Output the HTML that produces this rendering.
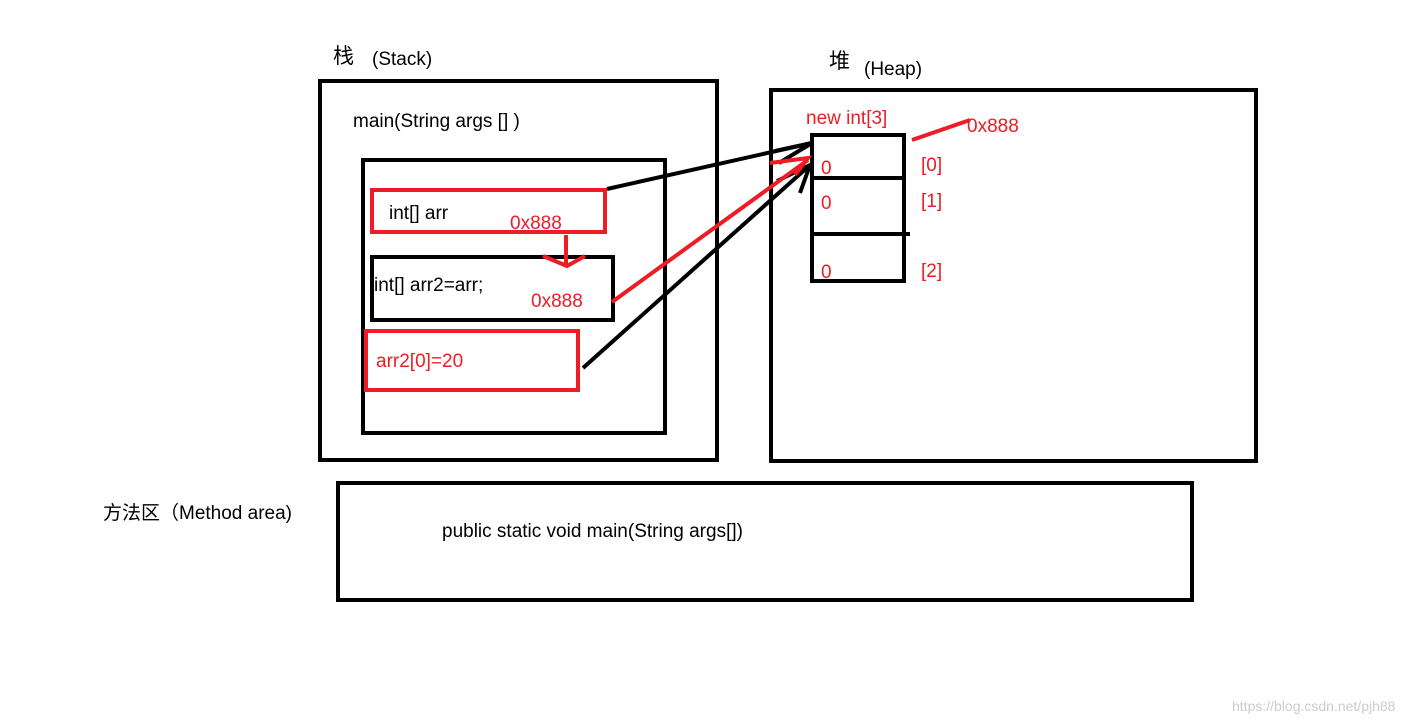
<!DOCTYPE html>
<html><head><meta charset="utf-8"><style>
html,body{margin:0;padding:0;background:#fff;}
svg{display:block}
text{font-family:"Liberation Sans","Noto Sans CJK SC",sans-serif;font-size:19px}
.r{fill:#ee1c24}
</style></head><body>
<svg width="1425" height="720" viewBox="0 0 1425 720" xmlns="http://www.w3.org/2000/svg">
<g fill="none" stroke="#000" stroke-width="4">
<rect x="320" y="81" width="397" height="379"/>
<rect x="363" y="160" width="302" height="273"/>
<rect x="372" y="257" width="241" height="63"/>
<rect x="771" y="90" width="485" height="371"/>
<rect x="812" y="135" width="92" height="146"/>
<line x1="812" y1="178" x2="904" y2="178"/>
<line x1="812" y1="234" x2="910" y2="234"/>
<rect x="338" y="483" width="854" height="117"/>
<line x1="607" y1="189" x2="812" y2="143"/>
<polyline points="775,151 812,143 779,163"/>
<line x1="583" y1="368" x2="810" y2="165"/>
<polyline points="777,181 810,165 800,193"/>
</g>
<g fill="none" stroke="#ee1c24" stroke-width="4">
<rect x="372" y="190" width="233" height="42"/>
<rect x="366" y="331" width="212" height="59"/>
<line x1="612" y1="302" x2="808" y2="160"/>
<polyline points="770,163 808,158 795,175"/>
<line x1="566" y1="235" x2="566" y2="264"/>
<polyline points="543,256 567,266 585,256"/>
<line x1="912" y1="140" x2="970" y2="120"/>
</g>
<text x="333" y="63" style="font-size:21px">栈</text>
<text x="372" y="65">(Stack)</text>
<text x="829" y="68" style="font-size:21px">堆</text>
<text x="864" y="75">(Heap)</text>
<text x="353" y="127">main(String args [] )</text>
<text x="389" y="219">int[] arr</text>
<text x="374" y="291">int[] arr2=arr;</text>
<text class="r" x="510" y="229">0x888</text>
<text class="r" x="531" y="307">0x888</text>
<text class="r" x="376" y="367">arr2[0]=20</text>
<text class="r" x="806" y="124">new int[3]</text>
<text class="r" x="967" y="132">0x888</text>
<text class="r" x="821" y="174">0</text>
<text class="r" x="821" y="209">0</text>
<text class="r" x="821" y="278">0</text>
<text class="r" x="921" y="171">[0]</text>
<text class="r" x="921" y="207">[1]</text>
<text class="r" x="921" y="277">[2]</text>
<text x="103" y="519">方法区（Method  area)</text>
<text x="442" y="537">public static void   main(String args[])</text>
<text x="1232" y="711" style="font-size:14px;fill:#ccc">https://blog.csdn.net/pjh88</text>
</svg>
</body></html>
